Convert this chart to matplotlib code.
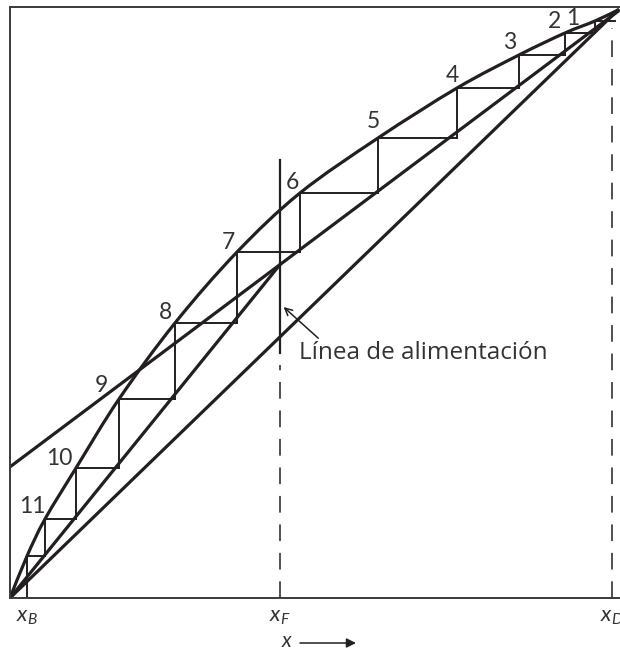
import matplotlib
matplotlib.use("Agg")
import matplotlib.pyplot as plt
from matplotlib.path import Path
from matplotlib.patches import PathPatch
import numpy as np

plt.rcParams['font.family'] = ['Lato', 'DejaVu Sans']
plt.rcParams['mathtext.fontset'] = 'custom'
plt.rcParams['mathtext.rm'] = 'Lato'
plt.rcParams['mathtext.it'] = 'Lato:italic'
plt.rcParams['lines.scale_dashes'] = False

# ---- data (mole fractions) ----
x_B = 0.028
x_F = 0.444
x_D = 0.99
rect_intercept = 0.223          # rectifying line value at x = 0

# equilibrium curve points (origin, stage corners, end)
eq_x = [0.0, 0.028, 0.0576, 0.1086, 0.1793, 0.2714, 0.3734, 0.477,
        0.6053, 0.7352, 0.8372, 0.9128, 0.9622, 1.0]
eq_y = [0.0, 0.0714, 0.1344, 0.2211, 0.3384, 0.4677, 0.5884, 0.6888,
        0.7823, 0.8673, 0.9235, 0.9609, 0.9813, 1.0]

# stage corners on the equilibrium curve, from the top (stage 1) down
stage_x = [0.9622, 0.9128, 0.8372, 0.7352, 0.6053, 0.477, 0.3734,
           0.2714, 0.1793, 0.1086, 0.0576, 0.028]
stage_y = [0.9813, 0.9609, 0.9235, 0.8673, 0.7823, 0.6888, 0.5884,
           0.4677, 0.3384, 0.2211, 0.1344, 0.0714]
first_step_end_x = 0.995

stage_labels = ['1', '2', '3', '4', '5', '6', '7', '8', '9', '10', '11']
label_x = [0.926, 0.896, 0.821, 0.727, 0.597, 0.465, 0.359, 0.255, 0.150, 0.081, 0.036]
label_y = [0.985, 0.980, 0.944, 0.889, 0.810, 0.706, 0.605, 0.485, 0.361, 0.238, 0.155]

feed_solid_top = 0.745
feed_solid_bottom = 0.4167
xD_dash_top = 0.969

# ---- figure ----
W, H = 620, 651
fig = plt.figure(figsize=(W / 100, H / 100), dpi=100)
L, R, T, B = 10, 625, 7, 598
ax = fig.add_axes([L / W, (H - B) / H, (R - L) / W, (B - T) / H])
ax.set_xlim(0, (R - L) / 608)
ax.set_ylim(0, (B - T) / 588)
ax.set_xticks([])
ax.set_yticks([])
for s in ['left', 'top', 'bottom']:
    ax.spines[s].set_color('#3a3a3a')
    ax.spines[s].set_linewidth(1.4)
ax.spines['right'].set_visible(False)

ink = '#231f20'
thick = 2.3
thin = 1.4

# diagonal y = x
ax.plot([0, 1.0], [0, 1.0], color=ink, lw=thick)

# equilibrium curve: smooth cubic path through the read points
P = np.column_stack([eq_x, eq_y])
verts = [P[0]]
codes = [Path.MOVETO]
n = len(P)
for i in range(n - 1):
    p0 = P[i - 1] if i > 0 else P[i]
    p1 = P[i]
    p2 = P[i + 1]
    p3 = P[i + 2] if i + 2 < n else P[i + 1]
    c1 = p1 + (p2 - p0) / 6.0
    c2 = p2 - (p3 - p1) / 6.0
    verts += [c1, c2, p2]
    codes += [Path.CURVE4] * 3
ax.add_patch(PathPatch(Path(verts, codes), facecolor='none',
                       edgecolor=ink, lw=thick))

# rectifying operating line
slope = (x_D - rect_intercept) / x_D
xr = np.array([0.0, 1.0])
ax.plot(xr, rect_intercept + slope * xr, color=ink, lw=thick)

# stripping operating line: origin to feed intersection
y_feed = rect_intercept + slope * x_F
ax.plot([0, x_F], [0, y_feed], color=ink, lw=thick)

# feed line
ax.plot([x_F, x_F], [feed_solid_bottom, feed_solid_top], color=ink, lw=1.6)
ax.plot([x_F, x_F], [0, feed_solid_bottom - 0.02], color=ink, lw=1.1,
        dashes=(12, 8.5))

# x_D dashed line
ax.plot([x_D, x_D], [0, xD_dash_top], color=ink, lw=1.1, dashes=(12, 8.5))

# stages
for i in range(len(stage_x)):
    xe, ye = stage_x[i], stage_y[i]
    x_right = first_step_end_x if i == 0 else stage_x[i - 1]
    ax.plot([xe, x_right], [ye, ye], color=ink, lw=thin)
    y_low = stage_y[i + 1] if i + 1 < len(stage_y) else 0.0
    ax.plot([xe, xe], [ye, y_low], color=ink, lw=thin)

for t, lx, ly in zip(stage_labels, label_x, label_y):
    ax.text(lx, ly, t, fontsize=16.5, color='#333333', ha='center', va='center')

# feed line annotation
ax.annotate('Línea de alimentación',
            xy=(x_F + 0.006, (598 - 307) / 588),
            xytext=((299 - 10) / 608, (598 - 353) / 588),
            fontsize=17.5, family=['Open Sans', 'DejaVu Sans'],
            color='#333333', ha='left', va='center',
            arrowprops=dict(arrowstyle='->', color=ink, lw=1.1,
                            mutation_scale=13, shrinkA=0, shrinkB=0,
                            relpos=(0.09, 1.0)))

# axis position labels
for lab, xv in [('$x_B$', x_B), ('$x_F$', x_F), ('$x_D$', x_D)]:
    ax.text(xv, -0.032, lab, fontsize=16, color='#333333', ha='center',
            va='center', clip_on=False)

# x arrow label
ax.text((287 - 10) / 608, (598 - 641) / 588, '$x$', fontsize=15,
        color='#333333', ha='center', va='center', clip_on=False)
ax.annotate('', xy=((356 - 10) / 608, (598 - 643) / 588),
            xytext=((300 - 10) / 608, (598 - 643) / 588),
            annotation_clip=False,
            arrowprops=dict(arrowstyle='-|>', color=ink, lw=1.1,
                            mutation_scale=14, shrinkA=0, shrinkB=0))

fig.savefig('out.png', dpi=100)
